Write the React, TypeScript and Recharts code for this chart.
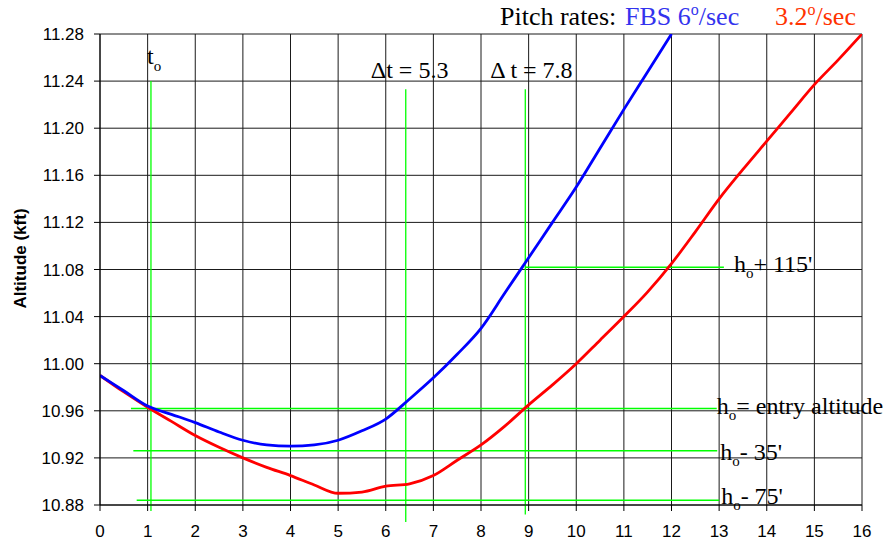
import React from 'react';
import { LineChart, Line, XAxis, YAxis, CartesianGrid, ReferenceLine } from 'recharts';

// time axis (s) and altitudes (kft)
const fbsTime = [0, 0.5, 1, 1.5, 2, 2.5, 3, 3.5, 4, 4.5, 5, 5.5, 6, 6.5, 7, 7.5, 8, 8.5, 9, 9.5, 10, 10.5, 11, 11.5, 12];
const fbsAlt = [
  10.99, 10.977, 10.964, 10.957, 10.95, 10.942, 10.935, 10.931, 10.93, 10.931, 10.935, 10.943, 10.953,
  10.97, 10.988, 11.008, 11.03, 11.06, 11.09, 11.12, 11.15, 11.183, 11.216, 11.248, 11.28,
];

const slowTime = [0, 0.5, 1, 1.5, 2, 2.5, 3, 3.5, 4, 4.5, 5, 5.5, 6, 6.5, 7, 7.5, 8, 8.5, 9, 9.5, 10, 10.5, 11, 11.5, 12, 12.5, 13, 13.5, 14, 14.5, 15, 15.5, 16];
const slowAlt = [
  10.99, 10.976, 10.963, 10.951, 10.939, 10.929, 10.92, 10.912, 10.905, 10.897, 10.89, 10.891, 10.896,
  10.898, 10.905, 10.918, 10.931, 10.947, 10.965, 10.982, 11.0, 11.02, 11.04, 11.061, 11.085, 11.112,
  11.14, 11.165, 11.189, 11.213, 11.237, 11.258, 11.28,
];

const xTicks = [0, 1, 2, 3, 4, 5, 6, 7, 8, 9, 10, 11, 12, 13, 14, 15, 16];
const yTicks = [10.88, 10.92, 10.96, 11.0, 11.04, 11.08, 11.12, 11.16, 11.2, 11.24, 11.28];

// vertical markers: time, top altitude, bottom altitude, label
const markerTime = [1.07, 6.42, 8.93];
const markerTop = [11.24, 11.233, 11.233];
const markerBottom = [10.875, 10.8656, 10.872];
const markerText = ['t', 'Δt = 5.3', 'Δ t = 7.8'];
const markerSub = ['o', '', ''];

// horizontal altitude markers
const levelAlt = [11.082, 10.962, 10.926, 10.884];
const levelFrom = [8.93, 0.65, 0.7, 0.77];
const levelTo = [13.1, 12.95, 12.96, 13.0];
const levelText = ['+ 115\'', '= entry altitude', '- 35\'', '- 75\''];

const fbsData = fbsTime.map((t, i) => ({ t, alt: fbsAlt[i] }));
const slowData = slowTime.map((t, i) => ({ t, alt: slowAlt[i] }));

const SERIF = '"Liberation Serif", "Times New Roman", serif';
const SANS = '"Liberation Sans", Arial, sans-serif';
const GREEN = '#00ff00';

const markerOffsets = [
  { dx: -4, dy: -17 },
  { dx: -35, dy: -11 },
  { dx: -35, dy: -11 },
];
const levelOffsets = [
  { dx: 10, dy: 5 },
  { dx: 0, dy: 6 },
  { dx: 3, dy: 9 },
  { dx: 2, dy: 4 },
];

function markerLabel(i: number) {
  return (props: any) => {
    const vb = props.viewBox || {};
    const o = markerOffsets[i];
    return (
      <text x={vb.x + o.dx} y={vb.y + o.dy} fontFamily={SERIF} fontSize={24} fill="#000">
        <tspan>{markerText[i]}</tspan>
        {markerSub[i] ? (
          <tspan fontSize={15} dy={7}>{markerSub[i]}</tspan>
        ) : null}
      </text>
    );
  };
}

function levelLabel(i: number) {
  return (props: any) => {
    const vb = props.viewBox || {};
    const o = levelOffsets[i];
    return (
      <text x={vb.x + vb.width + o.dx} y={vb.y + o.dy} fontFamily={SERIF} fontSize={24} fill="#000">
        <tspan>h</tspan>
        <tspan fontSize={15} dy={6}>o</tspan>
        <tspan dy={-6}>{levelText[i]}</tspan>
      </text>
    );
  };
}

function yLabel(props: any) {
  const vb = props.viewBox || { x: 0, y: 34, width: 100, height: 471 };
  const cx = vb.x + 20;
  const cy = vb.y + vb.height / 2 - 11;
  return (
    <text
      x={cx}
      y={cy}
      transform={`rotate(-90, ${cx}, ${cy})`}
      textAnchor="middle"
      dominantBaseline="central"
      fontFamily={SANS}
      fontWeight="bold"
      fontSize={17}
      fill="#000"
    >
      Altitude (kft)
    </text>
  );
}

export default function App() {
  const tickStyle = { fill: '#000', fontSize: 17, fontFamily: SANS };
  return (
    <div style={{ position: 'absolute', left: 0, top: 0, width: 886, height: 546, background: '#fff' }}>
      <LineChart width={886} height={546} margin={{ top: 34, right: 24, bottom: 0, left: 0 }}>
        <CartesianGrid stroke="#1a1a1a" strokeWidth={1} />
        <XAxis
          dataKey="t"
          type="number"
          domain={[0, 16]}
          ticks={xTicks}
          height={41}
          tickSize={6}
          tickMargin={14}
          tick={tickStyle}
          stroke="#000"
          allowDataOverflow
        />
        <YAxis
          dataKey="alt"
          type="number"
          domain={[10.88, 11.28]}
          ticks={yTicks}
          width={100}
          tickSize={6}
          tickMargin={10}
          tick={tickStyle}
          tickFormatter={(v: number) => v.toFixed(2)}
          stroke="#000"
          allowDataOverflow
          label={yLabel}
        />
        {markerTime.map((t, i) => (
          <ReferenceLine
            key={'m' + i}
            segment={[
              { x: t, y: markerTop[i] },
              { x: t, y: markerBottom[i] },
            ]}
            stroke={GREEN}
            strokeWidth={1.3}
            ifOverflow="visible"
            label={markerLabel(i)}
          />
        ))}
        {levelAlt.map((a, i) => (
          <ReferenceLine
            key={'l' + i}
            segment={[
              { x: levelFrom[i], y: a },
              { x: levelTo[i], y: a },
            ]}
            stroke={GREEN}
            strokeWidth={1.5}
            ifOverflow="visible"
            label={levelLabel(i)}
          />
        ))}
        <Line
          data={slowData}
          dataKey="alt"
          type="monotone"
          stroke="#ff0000"
          strokeWidth={2.8}
          dot={false}
          isAnimationActive={false}
        />
        <Line
          data={fbsData}
          dataKey="alt"
          type="monotone"
          stroke="#0000ff"
          strokeWidth={2.8}
          dot={false}
          isAnimationActive={false}
        />
      </LineChart>
      <svg width={886} height={34} style={{ position: 'absolute', left: 0, top: 0 }}>
        <text x={500} y={25} fontFamily={SERIF} fontSize={26} fill="#000">
          Pitch rates:
        </text>
        <text x={625} y={25} fontFamily={SERIF} fontSize={26} fill="#3333ee">
          <tspan>FBS 6</tspan>
          <tspan fontSize={16} dy={-10}>o</tspan>
          <tspan dy={10}>/sec</tspan>
        </text>
        <text x={775} y={25} fontFamily={SERIF} fontSize={26} fill="#ff3300">
          <tspan>3.2</tspan>
          <tspan fontSize={16} dy={-10}>o</tspan>
          <tspan dy={10}>/sec</tspan>
        </text>
      </svg>
    </div>
  );
}
